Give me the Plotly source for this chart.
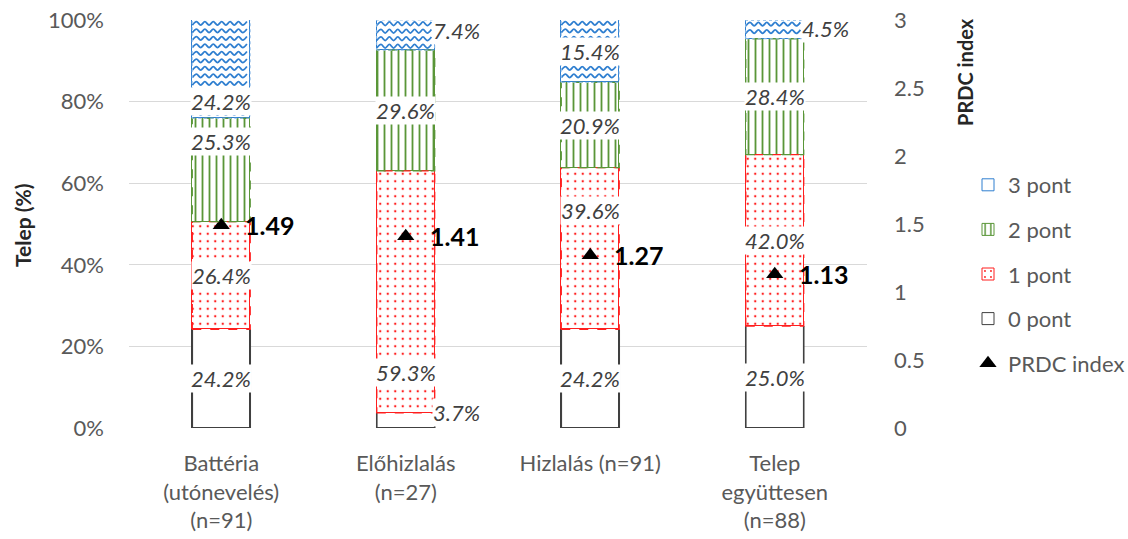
import plotly.graph_objects as go

# ---- data -------------------------------------------------------------
categories = [
    "Battéria<br>(utónevelés)<br>(n=91)",
    "Előhizlalás<br>(n=27)",
    "Hizlalás (n=91)",
    "Telep<br>együttesen<br>(n=88)",
]
pont0 = [24.2, 3.7, 24.2, 25.0]
pont1 = [26.4, 59.3, 39.6, 42.0]
pont2 = [25.3, 29.6, 20.9, 28.4]
pont3 = [24.2, 7.4, 15.4, 4.5]
prdc_index = [1.49, 1.41, 1.27, 1.13]
series_names = ["0 pont", "1 pont", "2 pont", "3 pont"]
pct_ticks = [0, 20, 40, 60, 80, 100]
prdc_ticks = [0, 0.5, 1, 1.5, 2, 2.5, 3]

# ---- layout constants -------------------------------------------------
W, H = 1128, 539
PL, PR, PT, PB = 129, 867, 20, 428          # plot area in pixels
FONT = "Lato"
BAR_W = 0.314
RED, GREEN, BLUE, DARK = "#ff1f1f", "#5a9638", "#2f7fd0", "#404040"
LABEL_COLOR = "#404040"
TICK_COLOR = "#595959"

px_per_x = (PR - PL) / 4.0
px_per_y = (PB - PT) / 100.0


def paper_x(px):
    return (px - PL) / (PR - PL)


def paper_y(py):
    return (PB - py) / (PB - PT)


xs = list(range(len(categories)))
levels = [pont0, pont1, pont2, pont3]

fig = go.Figure()

# stacked segments
styles = [
    dict(color="white"),
    dict(color="white", pattern=dict(shape=".", fgcolor=RED, bgcolor="white",
                                     size=7.5, solidity=0.08, fillmode="replace")),
    dict(color="white", pattern=dict(shape="|", fgcolor=GREEN, bgcolor="white",
                                     size=7, solidity=0.26, fillmode="replace")),
    dict(color="white"),
]
legend_lines = [DARK, RED, GREEN, BLUE]
for i, (name, vals) in enumerate(zip(series_names, levels)):
    fig.add_trace(go.Bar(
        x=xs, y=vals, name=name, width=BAR_W,
        marker=dict(**styles[i], line=dict(color=legend_lines[i], width=1)),
        legendgroup=name, legendrank=10 - i,
        hoverinfo="skip",
    ))

# wave hatching for the "3 pont" segments
row_step = 7.5 / px_per_y
amp = 1.8 / px_per_y
half_period = 4.2 / px_per_x
for i, x in enumerate(xs):
    top = pont0[i] + pont1[i] + pont2[i] + pont3[i]
    bottom = pont0[i] + pont1[i] + pont2[i]
    x0, x1 = x - BAR_W / 2, x + BAR_W / 2
    wx, wy = [], []
    yrow = top - row_step / 2
    while yrow - amp > bottom:
        k = 0
        xx = x0
        while xx <= x1 + 1e-9:
            wx.append(xx)
            wy.append(yrow + (amp if k % 2 else -amp))
            xx += half_period
            k += 1
        wx.append(None)
        wy.append(None)
        yrow -= row_step
    fig.add_trace(go.Scatter(
        x=wx, y=wy, mode="lines", line=dict(color=BLUE, width=1.8, shape="spline"),
        showlegend=False, hoverinfo="skip",
    ))

# PRDC index markers on the secondary axis
fig.add_trace(go.Scatter(
    x=xs, y=prdc_index, yaxis="y2", mode="markers", name="PRDC index",
    marker=dict(symbol="triangle-up", size=15, color="black"),
    legendgroup="prdc", legendrank=20, hoverinfo="skip",
))

# segment outlines
shapes = []
for i, x in enumerate(xs):
    x0, x1 = x - BAR_W / 2, x + BAR_W / 2
    base = 0.0
    for lvl, vals in enumerate(levels):
        y0, y1 = base, base + vals[i]
        if lvl == 0:
            shapes.append(dict(type="path", xref="x", yref="y", layer="above",
                               path=f"M{x0},{y0} L{x0},{y1} M{x1},{y0} L{x1},{y1}",
                               line=dict(color=DARK, width=1.6)))
        elif lvl == 3:
            shapes.append(dict(type="rect", xref="x", yref="y", layer="above",
                               x0=x0, x1=x1, y0=y0, y1=y1,
                               line=dict(color="#9cc3ea", width=1, dash="dot")))
        else:
            shapes.append(dict(type="rect", xref="x", yref="y", layer="above",
                               x0=x0, x1=x1, y0=y0, y1=y1,
                               line=dict(color=legend_lines[lvl], width=1.3, dash="dash")))
        base = y1

# percentage labels
inside_y = {(0, 3): 80.1, (0, 2): 70.1, (1, 1): 13.5, (2, 1): 53.4}
outside_y = {(1, 3): 97.5, (1, 0): 3.7, (3, 3): 98.0}
annotations = []
for i, x in enumerate(xs):
    base = 0.0
    for lvl, vals in enumerate(levels):
        v = vals[i]
        center = base + v / 2
        txt = f"{v:.1f}%"
        common = dict(xref="x", yref="y", text=txt, showarrow=False,
                      bgcolor="white", borderpad=0,
                      font=dict(family=FONT, size=22, color=LABEL_COLOR, style="italic"))
        if (i, lvl) in outside_y:
            annotations.append(dict(x=x + BAR_W / 2, y=outside_y[(i, lvl)],
                                    xanchor="left", yanchor="middle", xshift=-3, **common))
        else:
            annotations.append(dict(x=x, y=inside_y.get((i, lvl), center),
                                    xanchor="center", yanchor="middle", **common))
        base += v

# PRDC value labels
for x, v in zip(xs, prdc_index):
    annotations.append(dict(x=x, y=v, xref="x", yref="y2", text=f"<b>{v:.2f}</b>",
                            showarrow=False, xanchor="left", yanchor="middle", xshift=22,
                            font=dict(family=FONT, size=25, color="black")))

# axis titles
annotations.append(dict(xref="paper", yref="paper", x=paper_x(22), y=paper_y(225),
                        text="<b>Telep (%)</b>", textangle=-90, showarrow=False,
                        xanchor="center", yanchor="middle",
                        font=dict(family=FONT, size=21, color="#262626")))
annotations.append(dict(xref="paper", yref="paper", x=paper_x(965), y=paper_y(72),
                        text="<b>PRDC index</b>", textangle=-90, showarrow=False,
                        xanchor="center", yanchor="middle",
                        font=dict(family=FONT, size=20, color="#262626")))

fig.update_layout(
    width=W, height=H,
    margin=dict(l=PL, r=W - PR, t=PT, b=H - PB, autoexpand=False),
    plot_bgcolor="white", paper_bgcolor="white",
    barmode="stack", bargap=0,
    font=dict(family=FONT, size=22, color=TICK_COLOR),
    xaxis=dict(range=[-0.5, 3.5], tickvals=xs, ticktext=categories,
               showgrid=False, zeroline=False, showline=False, ticks="",
               ticklabelstandoff=20, automargin=False,
               tickfont=dict(family=FONT, size=22, color=TICK_COLOR)),
    yaxis=dict(range=[0, 100], tickvals=pct_ticks,
               ticktext=[f"{t}%" for t in pct_ticks],
               showgrid=True, gridcolor="#d9d9d9", gridwidth=1,
               zeroline=False, showline=False, ticks="", ticklabelstandoff=24,
               automargin=False,
               tickfont=dict(family=FONT, size=22, color=TICK_COLOR)),
    yaxis2=dict(range=[0, 3], overlaying="y", side="right", tickvals=prdc_ticks,
                ticktext=[f"{t:g}" for t in prdc_ticks],
                showgrid=False, zeroline=False, showline=False, ticks="",
                ticklabelstandoff=26, automargin=False,
                tickfont=dict(family=FONT, size=22, color=TICK_COLOR)),
    legend=dict(x=paper_x(968), y=paper_y(164), xanchor="left", yanchor="top",
                traceorder="grouped", tracegroupgap=13, itemwidth=30,
                font=dict(family=FONT, size=22, color=TICK_COLOR),
                bgcolor="rgba(0,0,0,0)"),
    shapes=shapes,
    annotations=annotations,
    showlegend=True,
)

fig.write_html("out.html")
